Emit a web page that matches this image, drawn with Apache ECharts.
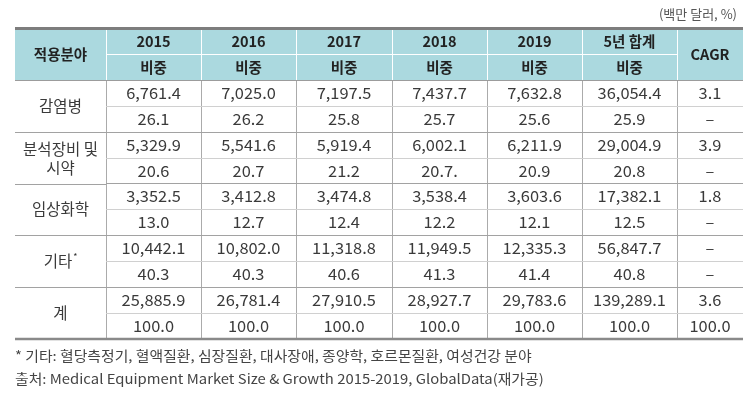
<!DOCTYPE html>
<html>
<head>
<meta charset="utf-8">
<script src="https://cdn.jsdelivr.net/npm/echarts@6/dist/echarts.min.js"></script>
<style>
    html, body { margin: 0; padding: 0; background: #fff; }
    #chart { width: 755px; height: 404px; }
</style>
</head>
<body>
<div id="chart"></div>
<script>
const fields = ['감염병', '분석장비 및\n시약', '임상화학', '기타*', '계'];
const years = ['2015', '2016', '2017', '2018', '2019', '5년 합계'];
const amounts = [
    [6761.4, 7025.0, 7197.5, 7437.7, 7632.8, 36054.4],
    [5329.9, 5541.6, 5919.4, 6002.1, 6211.9, 29004.9],
    [3352.5, 3412.8, 3474.8, 3538.4, 3603.6, 17382.1],
    [10442.1, 10802.0, 11318.8, 11949.5, 12335.3, 56847.7],
    [25885.9, 26781.4, 27910.5, 28927.7, 29783.6, 139289.1]
];
const shares = [
    ['26.1', '26.2', '25.8', '25.7', '25.6', '25.9'],
    ['20.6', '20.7', '21.2', '20.7.', '20.9', '20.8'],
    ['13.0', '12.7', '12.4', '12.2', '12.1', '12.5'],
    ['40.3', '40.3', '40.6', '41.3', '41.4', '40.8'],
    ['100.0', '100.0', '100.0', '100.0', '100.0', '100.0']
];
const cagr = ['3.1', '3.9', '1.8', '–', '3.6'];
const cagrShare = ['–', '–', '–', '–', '100.0'];

const FONT = '"Noto Sans CJK KR", "Noto Sans", sans-serif';
const rows = ['h1', 'h2'];
fields.forEach((f, i) => { rows.push('a' + i, 'b' + i); });
const rowCount = rows.length;

const fmt = v => v.toLocaleString('en-US', { minimumFractionDigits: 1, maximumFractionDigits: 1 });

// cells per grid
const nameCells = [{ col: 0, row: 0, span: 2, text: '적용분야', kind: 'head' }];
fields.forEach((f, i) => nameCells.push({ col: 0, row: 2 + 2 * i, span: 2, text: f, kind: 'name' }));

const yearCells = [];
years.forEach((y, j) => {
    yearCells.push({ col: j, row: 0, span: 1, text: y, kind: 'head' });
    yearCells.push({ col: j, row: 1, span: 1, text: '비중', kind: 'head' });
    fields.forEach((f, i) => {
        yearCells.push({ col: j, row: 2 + 2 * i, span: 1, text: fmt(amounts[i][j]), kind: 'num' });
        yearCells.push({ col: j, row: 3 + 2 * i, span: 1, text: shares[i][j], kind: 'num' });
    });
});

const cagrCells = [{ col: 0, row: 0, span: 2, text: 'CAGR', kind: 'head' }];
fields.forEach((f, i) => {
    cagrCells.push({ col: 0, row: 2 + 2 * i, span: 1, text: cagr[i], kind: 'num' });
    cagrCells.push({ col: 0, row: 3 + 2 * i, span: 1, text: cagrShare[i], kind: 'num' });
});

function hline(x0, x1, y, style, z2) {
    const yy = style.lineWidth % 2 === 1 ? Math.round(y) + 0.5 : Math.round(y);
    return { type: 'line', shape: { x1: x0, y1: yy, x2: x1, y2: yy }, style: style, z2: z2 };
}
function vline(x, y0, y1, style, z2) {
    const xx = Math.round(x) + 0.5;
    return { type: 'line', shape: { x1: xx, y1: y0, x2: xx, y2: y1 }, style: style, z2: z2 };
}

function renderCell(cells, lastCol) {
    return function (params, api) {
        const cell = cells[params.dataIndex];
        const c = api.coord([cell.col, cell.row]);
        const s = api.size([1, 1]);
        const x0 = Math.round(c[0] - s[0] / 2), x1 = Math.round(c[0] + s[0] / 2);
        const y0 = Math.round(c[1] - s[1] / 2), y1 = Math.round(c[1] - s[1] / 2 + s[1] * cell.span);
        const head = cell.kind === 'head';
        const endRow = cell.row + cell.span - 1;
        const children = [];

        if (head) {
            children.push({ type: 'rect', shape: { x: x0, y: y0, width: x1 - x0, height: y1 - y0 }, style: { fill: '#abd9df' }, z2: 0 });
        }
        // right line
        if (!lastCol) {
            children.push(vline(x1, y0, y1, { stroke: head ? '#ffffff' : '#ababab', lineWidth: 1 }, 2));
        }
        // bottom line
        if (endRow === rowCount - 1) {
            children.push(hline(x0, x1, y1, { stroke: '#8a8a8a', lineWidth: 2.5 }, 6));
        } else if (endRow === 1) {
            children.push(hline(x0, x1, y1, { stroke: '#9c9c9c', lineWidth: 1 }, 4));
        } else if (head) {
            children.push(hline(x0, x1, y1, { stroke: '#ffffff', lineWidth: 1 }, 3));
        } else if (endRow % 2 === 1) {
            children.push(hline(x0, x1, y1, { stroke: '#a2a2a2', lineWidth: 1 }, 4));
        } else {
            children.push(hline(x0, x1, y1, { stroke: '#d0d0d0', lineWidth: 1 }, 3));
        }
        // top border
        if (cell.row === 0) {
            children.push(hline(x0, x1, y0, { stroke: '#7d7d7d', lineWidth: 3 }, 6));
        }

        let text = cell.text;
        const rich = { sup: { fontSize: 9, fontFamily: FONT, fill: '#333', padding: [0, 0, 9, 1] } };
        if (text.endsWith('*')) text = text.slice(0, -1) + '{sup|*}';
        const cx = (x0 + x1) / 2;
        children.push({
            type: 'text',
            z2: 8,
            x: cx,
            y: (y0 + y1) / 2 + 0.5,
            scaleX: cell.kind === 'num' ? 1.06 : 1,
            style: {
                text: text,
                rich: rich,
                x: 0,
                y: 0,
                align: 'center',
                verticalAlign: 'middle',
                fontFamily: FONT,
                fontSize: head ? 14.5 : 15.5,
                fontWeight: head ? 'bold' : 'normal',
                lineHeight: 19,
                fill: head ? '#222' : '#3a3a3a'
            }
        });
        return { type: 'group', children: children };
    };
}

const gridTop = 28, gridHeight = 311;
const myChart = echarts.init(document.getElementById('chart'), null, { renderer: 'canvas' });

const option = {
    animation: false,
    title: {
        text: '(백만 달러, %)',
        right: 13,
        top: 3,
        textStyle: { fontFamily: FONT, fontSize: 13, fontWeight: 'normal', color: '#555' }
    },
    grid: [
        { left: 15, width: 91, top: gridTop, height: gridHeight },
        { left: 106, width: 571, top: gridTop, height: gridHeight },
        { left: 677, width: 66, top: gridTop, height: gridHeight }
    ],
    xAxis: [
        { gridIndex: 0, type: 'category', data: ['적용분야'], show: false },
        { gridIndex: 1, type: 'category', data: years, show: false },
        { gridIndex: 2, type: 'category', data: ['CAGR'], show: false }
    ],
    yAxis: [0, 1, 2].map(g => ({ gridIndex: g, type: 'category', data: rows, inverse: true, show: false })),
    series: [
        { type: 'custom', xAxisIndex: 0, yAxisIndex: 0, renderItem: renderCell(nameCells, false), data: nameCells.map(c => [c.col, c.row]) },
        { type: 'custom', xAxisIndex: 1, yAxisIndex: 1, renderItem: renderCell(yearCells, false), data: yearCells.map(c => [c.col, c.row]) },
        { type: 'custom', xAxisIndex: 2, yAxisIndex: 2, renderItem: renderCell(cagrCells, true), data: cagrCells.map(c => [c.col, c.row]) }
    ],
    graphic: [
        {
            type: 'text', x: 15, y: 356, scaleX: 1.1,
            style: { text: '* 기타: 혈당측정기, 혈액질환, 심장질환, 대사장애, 종양학, 호르몬질환, 여성건강 분야', verticalAlign: 'middle', fontFamily: FONT, fontSize: 13.5, fill: '#444' }
        },
        {
            type: 'text', x: 15, y: 379, scaleX: 1.1,
            style: { text: '출처: Medical Equipment Market Size & Growth 2015-2019, GlobalData(재가공)', verticalAlign: 'middle', fontFamily: FONT, fontSize: 13.5, fill: '#444' }
        }
    ]
};
myChart.setOption(option);
</script>
</body>
</html>
